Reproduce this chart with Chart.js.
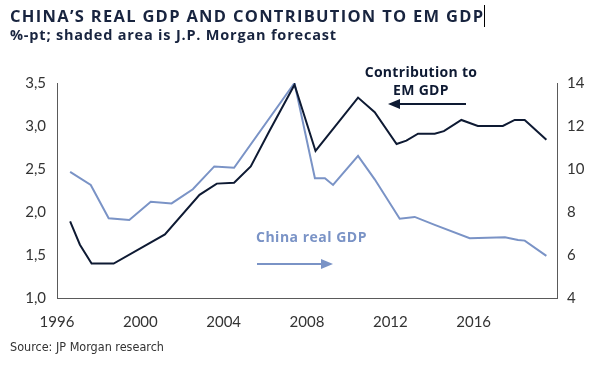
<!DOCTYPE html>
<html>
<head>
<meta charset="utf-8">
<script src="https://cdn.jsdelivr.net/npm/chart.js@4"></script>
<style>
    html, body { margin: 0; padding: 0; background: #fff; }
    #wrap { position: relative; width: 597px; height: 368px; overflow: hidden; }
    #chart { position: absolute; left: 0; top: 0; }
    .txt { position: absolute; white-space: nowrap; }
    #title { left: 10px; top: 4px; font: 700 16.5px "Open Sans", sans-serif; color: #18243f; letter-spacing: 1.3px; }
    #cursor { position: absolute; left: 484px; top: 5px; width: 1px; height: 22px; background: #000; }
    #subtitle { left: 10px; top: 25px; font: 700 14.5px "Open Sans", sans-serif; color: #18243f; letter-spacing: 0.8px; }
    #source { left: 10px; top: 339px; font: 12.5px "Liberation Sans Narrow", "DejaVu Sans Condensed", sans-serif; color: #333; }
    #contrib { left: 361px; top: 63px; font: 700 14px "Open Sans", sans-serif; color: #0e1a33; text-align: center; line-height: 18px; width: 120px; letter-spacing: 0.3px; }
    #gdplabel { left: 256px; top: 227px; font: 700 14px "Open Sans", sans-serif; color: #7a93c6; letter-spacing: 0.5px; }
</style>
</head>
<body>
<div id="wrap">
    <canvas id="chart" width="597" height="368"></canvas>
    <div class="txt" id="title">CHINA’S REAL GDP AND CONTRIBUTION TO EM GDP</div>
    <div id="cursor"></div>
    <div class="txt" id="subtitle">%-pt; shaded area is J.P. Morgan forecast</div>
    <div class="txt" id="source">Source: JP Morgan research</div>
    <div class="txt" id="contrib">Contribution to<br>EM GDP</div>
    <div class="txt" id="gdplabel">China real GDP</div>
</div>
<script>
// Contribution to EM GDP (%-pt, left axis)
const contribYears = [1996.63, 1997.1, 1997.66, 1998.72, 2001.18, 2002.84, 2003.67, 2004.5, 2005.3,
    2006.17, 2007.4, 2008.41, 2010.45, 2011.25, 2012.3, 2012.77, 2013.33, 2014.13, 2014.57,
    2015.41, 2016.2, 2017.4, 2017.97, 2018.45, 2019.49];
const contribValues = [1.89, 1.62, 1.40, 1.40, 1.74, 2.20, 2.33, 2.34, 2.53,
    2.93, 3.48, 2.71, 3.33, 3.16, 2.79, 2.83, 2.91, 2.91, 2.94,
    3.07, 3.00, 3.00, 3.07, 3.07, 2.84];

// China real GDP (%, right axis)
const gdpYears = [1996.63, 1997.62, 1998.48, 1999.47, 2000.5, 2001.5, 2002.52, 2003.55, 2004.5,
    2007.4, 2008.38, 2008.86, 2009.25, 2010.45, 2011.25, 2012.45, 2013.17, 2014.13,
    2015.81, 2017.5, 2018.13, 2018.45, 2019.49];
const gdpValues = [9.87, 9.26, 7.71, 7.63, 8.48, 8.40, 9.06, 10.12, 10.06,
    14.0, 9.57, 9.57, 9.26, 10.61, 9.52, 7.69, 7.77, 7.40,
    6.78, 6.83, 6.70, 6.67, 5.96];

const xTicks = [1996, 2000, 2004, 2008, 2012, 2016];

const navy = '#0e1a33';
const lightBlue = '#7a93c6';
const axisColor = '#5a5a5a';
const tickFont = { family: 'Lato', size: 15 };

// arrows next to the two series labels
const arrowPlugin = {
    id: 'arrows',
    afterDraw(chart) {
        const c = chart.ctx;
        const drawArrow = (x1, x2, y, color) => {
            const dir = x2 > x1 ? 1 : -1;
            c.save();
            c.strokeStyle = color;
            c.fillStyle = color;
            c.lineWidth = 2;
            c.beginPath();
            c.moveTo(x1, y);
            c.lineTo(x2 - dir * 10, y);
            c.stroke();
            c.beginPath();
            c.moveTo(x2, y);
            c.lineTo(x2 - dir * 12, y - 5);
            c.lineTo(x2 - dir * 12, y + 5);
            c.closePath();
            c.fill();
            c.restore();
        };
        drawArrow(466, 388, 104, navy);
        drawArrow(257, 333, 264, lightBlue);
    }
};

const ctx = document.getElementById('chart');
new Chart(ctx.getContext('2d'), {
    type: 'line',
    data: {
        datasets: [
            {
                label: 'Contribution to EM GDP',
                data: contribYears.map((x, i) => ({ x: x, y: contribValues[i] })),
                yAxisID: 'y',
                borderColor: navy,
                borderWidth: 2,
                pointRadius: 0,
                tension: 0
            },
            {
                label: 'China real GDP',
                data: gdpYears.map((x, i) => ({ x: x, y: gdpValues[i] })),
                yAxisID: 'y1',
                borderColor: lightBlue,
                borderWidth: 2,
                pointRadius: 0,
                tension: 0
            }
        ]
    },
    options: {
        responsive: false,
        animation: false,
        layout: { padding: { top: 83, left: 0, right: 0, bottom: 0 } },
        plugins: {
            legend: { display: false },
            tooltip: { enabled: false }
        },
        scales: {
            x: {
                type: 'linear',
                min: 1996,
                max: 2020,
                afterBuildTicks: (scale) => {
                    scale.ticks = xTicks.map(v => ({ value: v }));
                },
                afterFit: (scale) => { scale.height = 70; },
                grid: { display: false, drawTicks: false },
                border: { display: true, color: axisColor, width: 1 },
                ticks: {
                    color: '#333',
                    font: tickFont,
                    padding: 15,
                    maxRotation: 0,
                    callback: (v) => String(v)
                }
            },
            y: {
                position: 'left',
                min: 1,
                max: 3.5,
                afterFit: (scale) => { scale.width = 57; },
                grid: { display: false, drawTicks: false },
                border: { display: true, color: axisColor, width: 1 },
                ticks: {
                    stepSize: 0.5,
                    color: '#333',
                    font: tickFont,
                    padding: 11,
                    callback: (v) => v.toFixed(1).replace('.', ',')
                }
            },
            y1: {
                position: 'right',
                min: 4,
                max: 14,
                afterFit: (scale) => { scale.width = 40; },
                grid: { display: false, drawTicks: false },
                border: { display: true, color: axisColor, width: 1 },
                ticks: {
                    stepSize: 2,
                    color: '#333',
                    font: tickFont,
                    padding: 10
                }
            }
        }
    },
    plugins: [arrowPlugin]
});
</script>
</body>
</html>
